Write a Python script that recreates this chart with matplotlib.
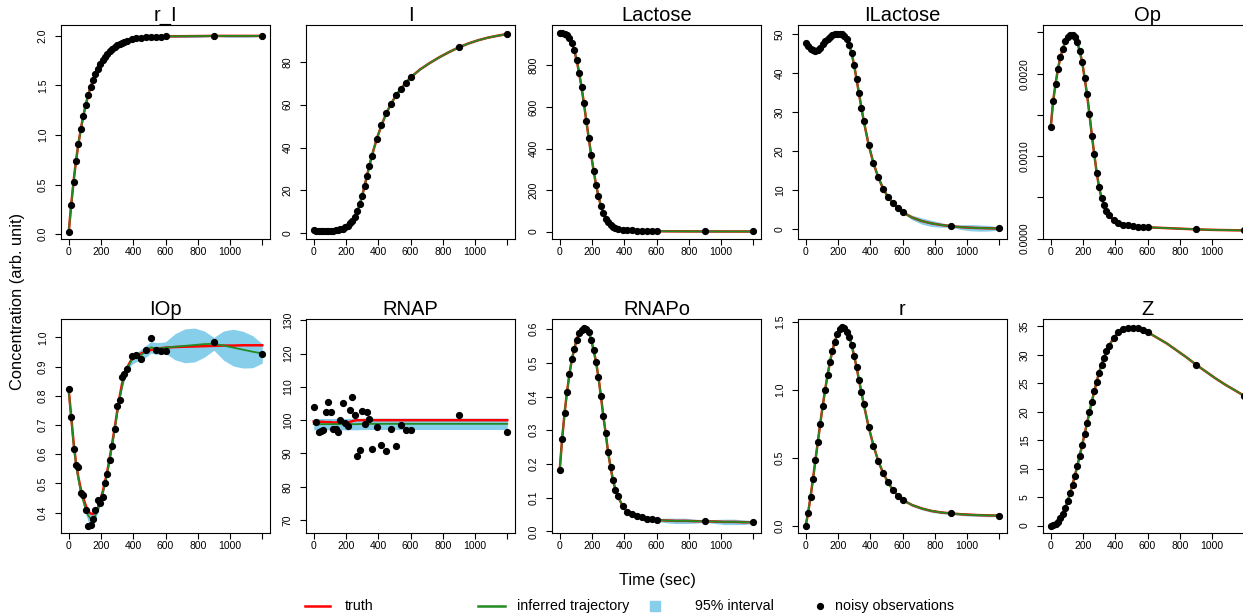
import numpy as np
import matplotlib
matplotlib.use("Agg")
import matplotlib.pyplot as plt

plt.rcParams['font.family'] = ['Liberation Sans', 'DejaVu Sans']

# time grid of the drawn trajectories and of the observations
t_line = list(range(0, 361, 15)) + list(range(390, 601, 30)) + [660, 720, 780, 840, 900, 960, 1020, 1080, 1140, 1200]
t_obs = list(range(0, 361, 15)) + list(range(390, 601, 30)) + [900, 1200]

# r_I
rI_truth = [0.02, 0.29, 0.53, 0.74, 0.91, 1.06, 1.19, 1.30, 1.40, 1.48, 1.55, 1.62, 1.67, 1.72, 1.76, 1.79,
            1.82, 1.85, 1.87, 1.89, 1.905, 1.92, 1.93, 1.94, 1.95,
            1.965, 1.975, 1.98, 1.985, 1.99, 1.99, 1.993, 1.995,
            1.996, 1.997, 1.998, 1.999, 2.0, 2.0, 2.0, 2.0, 2.0, 2.0]
rI_band = [0.0] * 32 + [0.004, 0.012, 0.014, 0.014, 0.012, 0.004, 0.012, 0.014, 0.014, 0.012, 0.004]

# I
I_truth = [1.5, 1.25, 1.1, 1.05, 1.0, 1.0, 1.0, 1.05, 1.15, 1.3, 1.5, 1.8, 2.2, 2.8, 3.6, 4.6, 5.9,
           7.75, 10.2, 13.5, 17.4, 22.0, 26.8, 31.5, 36.0,
           43.9, 50.4, 56.0, 60.5, 64.3, 67.4, 70.2, 72.7,
           76.5, 79.5, 82.2, 84.6, 86.8, 88.6, 90.1, 91.3, 92.2, 93.0]
I_band = [0.0] * 33 + [0.3] * 10

# Lactose
Lac_truth = [955, 955, 953, 945, 930, 907, 873, 825, 766, 696, 617, 532, 449, 369, 293, 226, 170,
             123, 90, 62, 44, 32, 23, 17, 13,
             9, 7, 5, 4, 3, 2.5, 2, 1.5,
             1.2, 1.0, 0.8, 0.6, 0.5, 0.4, 0.35, 0.3, 0.25, 0.2]
Lac_band = [0.0] * 33 + [2.0] * 10

# ILactose
ILac_truth = [47.8, 46.9, 46.2, 45.9, 45.8, 46.0, 46.6, 47.4, 48.2, 48.9, 49.4, 49.8, 50.0, 50.1, 50.2,
              50.0, 49.5, 48.8, 47.3, 45.1, 42.1, 38.5, 34.9, 31.2, 27.7,
              21.7, 16.9, 13.3, 10.4, 8.3, 6.7, 5.4, 4.4,
              3.0, 2.1, 1.5, 1.1, 0.8, 0.55, 0.4, 0.3, 0.25, 0.2]
ILac_band = [0.0] * 32 + [0.2, 0.6, 0.8, 0.8, 0.6, 0.3, 0.6, 0.8, 0.8, 0.7, 0.4]

# Op
Op_truth = [0.00135, 0.00167, 0.00188, 0.00206, 0.00220, 0.00230, 0.00239, 0.00245, 0.00247, 0.00247,
            0.00244, 0.00238, 0.00227, 0.00214, 0.00195, 0.00175, 0.00151, 0.00125, 0.00102, 0.00080,
            0.00062, 0.00049, 0.00041, 0.00034, 0.00028,
            0.00022, 0.00019, 0.00017, 0.00016, 0.00015, 0.000145, 0.00014, 0.000137,
            0.000132, 0.000127, 0.000122, 0.000117, 0.000112, 0.000108, 0.000105, 0.000103, 0.000101, 0.0001]
Op_band = [0.0] * 43

# IOp
IOp_truth = [0.82, 0.73, 0.64, 0.57, 0.52, 0.48, 0.45, 0.425, 0.405, 0.397, 0.395, 0.40, 0.415, 0.44,
             0.47, 0.505, 0.545, 0.59, 0.64, 0.69, 0.745, 0.795, 0.84, 0.87, 0.895,
             0.925, 0.937, 0.945, 0.952, 0.957, 0.961, 0.963, 0.965,
             0.967, 0.968, 0.969, 0.970, 0.971, 0.972, 0.972, 0.973, 0.973, 0.973]
IOp_inferred = [0.815, 0.725, 0.635, 0.565, 0.515, 0.47, 0.44, 0.41, 0.39, 0.38, 0.378, 0.39, 0.41, 0.435,
                0.465, 0.50, 0.54, 0.585, 0.635, 0.685, 0.74, 0.79, 0.83, 0.865, 0.89,
                0.922, 0.932, 0.94, 0.953, 0.966, 0.962, 0.963, 0.965,
                0.968, 0.971, 0.974, 0.977, 0.978, 0.972, 0.965, 0.958, 0.951, 0.945]
IOp_band = [0.005] * 6 + [0.01, 0.015, 0.02, 0.02, 0.02, 0.015, 0.01] + [0.01] * 12 + \
           [0.015, 0.015, 0.02, 0.02, 0.02, 0.02, 0.02, 0.02] + \
           [0.045, 0.058, 0.058, 0.045, 0.022, 0.05, 0.063, 0.063, 0.055, 0.033]
IOp_obs = [0.822, 0.727, 0.617, 0.564, 0.556, 0.466, 0.460, 0.408, 0.354, 0.358, 0.377, 0.408, 0.443,
           0.434, 0.455, 0.501, 0.533, 0.581, 0.629, 0.685, 0.765, 0.785, 0.864, 0.873, 0.893,
           0.936, 0.939, 0.926, 0.958, 0.998, 0.958, 0.955, 0.955, 0.984, 0.944]

# RNAP
RNAP_truth = [99.6, 99.6, 99.5, 99.5, 99.5, 99.4, 99.4, 99.4, 99.3, 99.3, 99.3, 99.3, 99.3, 99.3, 99.3,
              99.5, 99.7, 99.9, 100.0, 100.0, 100.0, 100.0, 100.0, 100.0, 100.0] + [100.0] * 18
RNAP_inferred = [98.8] * 17 + [98.8, 98.8, 98.85, 98.85, 98.9, 98.9, 98.9, 98.9] + [98.9] * 18
RNAP_band = [1.7] * 43
RNAP_obs = [104.0, 99.5, 96.4, 96.8, 96.9, 102.4, 105.4, 102.6, 97.2, 97.2, 96.3, 100.0, 105.1, 99.2,
            98.1, 103.1, 107.1, 101.6, 89.3, 91.1, 102.9, 98.9, 102.6, 100.4, 91.3,
            97.9, 92.4, 90.6, 97.4, 92.1, 98.7, 97.0, 97.1, 101.5, 96.5]

# RNAPo
RNAPo_truth = [0.183, 0.275, 0.351, 0.413, 0.466, 0.510, 0.541, 0.569, 0.588, 0.598, 0.602, 0.599, 0.591,
               0.569, 0.537, 0.503, 0.457, 0.403, 0.343, 0.291, 0.234, 0.191, 0.152, 0.124, 0.104,
               0.075, 0.058, 0.050, 0.045, 0.041, 0.038, 0.036, 0.034,
               0.032, 0.031, 0.031, 0.030, 0.030, 0.029, 0.028, 0.028, 0.027, 0.027]
RNAPo_band = [0.0] * 32 + [0.004, 0.007, 0.008, 0.008, 0.006, 0.003, 0.006, 0.008, 0.008, 0.007, 0.004]

# r
r_truth = [0.005, 0.10, 0.218, 0.347, 0.484, 0.619, 0.754, 0.881, 1.00, 1.108, 1.206, 1.287, 1.356,
           1.41, 1.445, 1.46, 1.455, 1.43, 1.39, 1.33, 1.25, 1.17, 1.075, 0.985, 0.895,
           0.729, 0.592, 0.477, 0.391, 0.323, 0.267, 0.225, 0.193,
           0.155, 0.13, 0.112, 0.101, 0.094, 0.088, 0.084, 0.081, 0.079, 0.078]
r_band = [0.0] * 32 + [0.004, 0.01, 0.01, 0.01, 0.01, 0.005, 0.01, 0.01, 0.01, 0.01, 0.005]

# Z
Z_truth = [0.0, 0.05, 0.25, 0.7, 1.3, 2.1, 3.1, 4.3, 5.7, 7.2, 8.8, 10.5, 12.3, 14.2, 16.1, 18.0, 19.9,
           21.8, 23.6, 25.3, 26.9, 28.3, 29.5, 30.6, 31.5,
           33.0, 34.0, 34.6, 34.75, 34.8, 34.7, 34.4, 34.0,
           33.0, 32.0, 30.8, 29.6, 28.3, 27.1, 25.9, 24.8, 23.8, 22.8]
Z_band = [0.0] * 43

obs_idx = np.isin(t_line, t_obs)

def sub(vals):
    return list(np.array(vals)[obs_idx])

panels = [
    ("r_I", rI_truth, rI_truth, rI_band, sub(rI_truth), (-0.05, 2.11), [0, 0.5, 1.0, 1.5, 2.0], ["0.0", "0.5", "1.0", "1.5", "2.0"]),
    ("I", I_truth, I_truth, I_band, sub(I_truth), (-2.7, 97.2), [0, 20, 40, 60, 80], ["0", "20", "40", "60", "80"]),
    ("Lactose", Lac_truth, Lac_truth, Lac_band, sub(Lac_truth), (-36, 995), [0, 200, 400, 600, 800], ["0", "200", "400", "600", "800"]),
    ("ILactose", ILac_truth, ILac_truth, ILac_band, sub(ILac_truth), (-2.5, 52.4), [0, 10, 20, 30, 40, 50], ["0", "10", "20", "30", "40", "50"]),
    ("Op", Op_truth, Op_truth, Op_band, sub(Op_truth), (-0.000005, 0.00259), [0, 0.0005, 0.001, 0.0015, 0.002, 0.0025], ["0.0000", "", "0.0010", "", "0.0020", ""]),
    ("IOp", IOp_truth, IOp_inferred, IOp_band, IOp_obs, (0.33, 1.063), [0.4, 0.5, 0.6, 0.7, 0.8, 0.9, 1.0], ["0.4", "0.5", "0.6", "0.7", "0.8", "0.9", "1.0"]),
    ("RNAP", RNAP_truth, RNAP_inferred, RNAP_band, RNAP_obs, (66.1, 130.4), [70, 80, 90, 100, 110, 120, 130], ["70", "80", "90", "100", "110", "120", "130"]),
    ("RNAPo", RNAPo_truth, RNAPo_truth, RNAPo_band, sub(RNAPo_truth), (-0.005, 0.63), [0, 0.1, 0.2, 0.3, 0.4, 0.5, 0.6], ["0.0", "0.1", "0.2", "0.3", "0.4", "0.5", "0.6"]),
    ("r", r_truth, r_truth, r_band, sub(r_truth), (-0.05, 1.522), [0, 0.5, 1.0, 1.5], ["0.0", "0.5", "1.0", "1.5"]),
    ("Z", Z_truth, Z_truth, Z_band, sub(Z_truth), (-1.3, 36.3), [0, 5, 10, 15, 20, 25, 30, 35], ["0", "5", "10", "15", "20", "25", "30", "35"]),
]

W, H = 1243, 615
fig = plt.figure(figsize=(W / 100, H / 100), dpi=100)

lefts = [61, 306, 552, 798, 1043]
tops = [25, 319]
pw, ph = 209, 214

for k, (name, truth, inferred, band, obs, ylim, yt, ytl) in enumerate(panels):
    row, col = divmod(k, 5)
    ax = fig.add_axes([lefts[col] / W, 1 - (tops[row] + ph) / H, pw / W, ph / H])
    inf = np.array(inferred)
    bd = np.array(band)
    ax.fill_between(t_line, inf - bd, inf + bd, color="skyblue", lw=0)
    ax.plot(t_line, truth, color="red", lw=1.8)
    ax.plot(t_line, inferred, color="forestgreen", lw=1.3)
    ax.plot(t_obs, obs, "o", color="black", ms=4.2)
    ax.set_xlim(-48, 1248)
    ax.set_ylim(*ylim)
    ax.set_xticks([0, 200, 400, 600, 800, 1000, 1200])
    ax.set_xticklabels(["0", "200", "400", "600", "800", "1000", ""])
    ax.set_yticks(yt)
    ax.set_yticklabels(ytl, rotation=90, va="center")
    ax.tick_params(direction="out", length=4.5, width=0.8, labelsize=7.5)
    ax.tick_params(axis="x", pad=1.5)
    ax.tick_params(axis="y", pad=5)
    for s in ax.spines.values():
        s.set_linewidth(0.8)
    ax.set_title(name, fontsize=14.5, pad=2)

fig.text(18 / W, 1 - 302 / H, "Concentration (arb. unit)", rotation=90, ha="center", va="center", fontsize=11.8)
fig.text(657 / W, 1 - 580 / H, "Time (sec)", ha="center", va="center", fontsize=11.8)

# legend along the bottom, laid out in pixel coordinates
lg = fig.add_axes([0, 0, 1, 1])
lg.set_xlim(0, W)
lg.set_ylim(H, 0)
lg.axis("off")
ly = 606
lg.plot([305, 330], [ly, ly], color="red", lw=1.8)
lg.text(345, ly, "truth", va="center", fontsize=10.3)
lg.plot([478, 505], [ly, ly], color="forestgreen", lw=1.8)
lg.text(517, ly, "inferred trajectory", va="center", fontsize=10.3)
lg.plot([655], [ly], "s", color="skyblue", ms=7.5)
lg.text(695, ly, "95% interval", va="center", fontsize=10.3)
lg.plot([820], [ly], "o", color="black", ms=4.2)
lg.text(835, ly, "noisy observations", va="center", fontsize=10.3)

fig.savefig("out.png", dpi=100)
